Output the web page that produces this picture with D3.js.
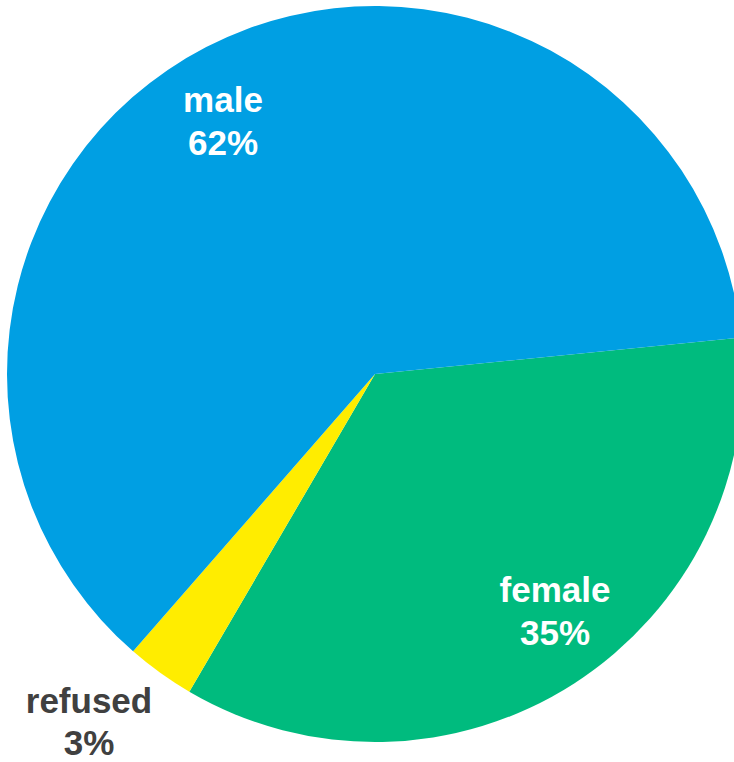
<!DOCTYPE html>
<html>
<head>
<meta charset="utf-8">
<script src="https://cdn.jsdelivr.net/npm/d3@7"></script>
<style>
  html, body { margin: 0; padding: 0; background: #fff; }
  svg { display: block; }
</style>
</head>
<body>
<svg id="chart" width="734" height="762"></svg>
<script>
// Gender breakdown of respondents (percent)
const categories = ["female", "refused", "male"];
const values = [35, 3, 62];
const labels = ["35%", "3%", "62%"];
const colors = ["#00BB7E", "#FFED00", "#009FE3"];
const textColors = ["#ffffff", "#404040", "#ffffff"];

const width = 734, height = 762;
const cx = 375, cy = 374, radius = 368;

const svg = d3.select("#chart");
const g = svg.append("g").attr("transform", `translate(${cx},${cy})`);

const startDeg = 84.3;
const pie = d3.pie()
  .sort(null)
  .value(d => d.value)
  .startAngle(startDeg * Math.PI / 180)
  .endAngle(startDeg * Math.PI / 180 + 2 * Math.PI);

const data = categories.map((c, i) => ({ name: c, value: values[i], label: labels[i], color: colors[i], text: textColors[i] }));
const arcs = pie(data);
const arc = d3.arc().innerRadius(0).outerRadius(radius);

g.selectAll("path.slice")
  .data(arcs)
  .join("path")
  .attr("class", "slice")
  .attr("d", arc)
  .attr("fill", d => d.data.color);

// Label anchor points: [x, y of first baseline, line gap] in page coordinates
const labelPos = {
  female: [555, 602, 43],
  refused: [89, 713, 42],
  male: [223, 112, 43]
};

const lbl = svg.selectAll("text.lbl")
  .data(arcs)
  .join("text")
  .attr("class", "lbl")
  .attr("text-anchor", "middle")
  .attr("font-family", "'Liberation Sans', Arial, sans-serif")
  .attr("font-weight", "bold")
  .attr("font-size", 35)
  .attr("fill", d => d.data.text);

lbl.append("tspan")
  .attr("x", d => labelPos[d.data.name][0])
  .attr("y", d => labelPos[d.data.name][1])
  .text(d => d.data.name);
lbl.append("tspan")
  .attr("x", d => labelPos[d.data.name][0])
  .attr("y", d => labelPos[d.data.name][1] + labelPos[d.data.name][2])
  .text(d => d.data.label);
</script>
</body>
</html>
